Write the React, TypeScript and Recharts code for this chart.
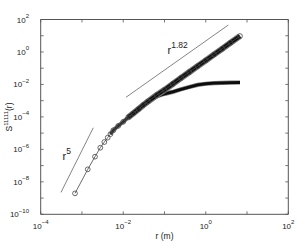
import React from 'react';
import { ComposedChart, Line, XAxis, YAxis, ReferenceLine } from 'recharts';

// Series A: circles (full structure function)
const rA = [6.78e-4, 1.38e-3, 2.07e-3, 2.78e-3, 3.48e-3, 4.2e-3, 4.9e-3, 5.75e-3, 7.59e-3, 1.0e-2, 1.32e-2, 1.75e-2, 2.34e-2, 3.06e-2, 3.98e-2, 6.46e-2, 0.1, 0.158, 0.251, 0.398, 0.631, 1.0, 1.585, 2.512, 3.98, 6.75];
const sA = [1.95e-9, 5.89e-8, 3.55e-7, 1.26e-6, 2.82e-6, 5.25e-6, 8.71e-6, 1.51e-5, 2.82e-5, 5.0e-5, 9.33e-5, 1.66e-4, 3.02e-4, 5.37e-4, 8.91e-4, 2.19e-3, 4.57e-3, 1.07e-2, 2.51e-2, 5.75e-2, 0.132, 0.302, 0.692, 1.585, 3.72, 9.55];
// Series B: saturating branch
const rB = [3.98e-2, 6.31e-2, 0.1, 0.158, 0.251, 0.398, 0.631, 1.0, 1.585, 2.512, 3.98, 6.76];
const sB = [8.91e-4, 1.82e-3, 2.63e-3, 3.47e-3, 5.01e-3, 6.92e-3, 9.33e-3, 1.10e-2, 1.20e-2, 1.26e-2, 1.29e-2, 1.32e-2];
// Reference slopes
const rSlope5 = [3.1e-4, 1.88e-3];
const sSlope5 = [2.24e-9, 2.14e-5];
const rSlope182 = [1.167e-2, 3.516];
const sSlope182 = [1.62e-3, 45.7];

const xTicks = [1e-4, 1e-3, 1e-2, 1e-1, 1e0, 1e1, 1e2];
const yTicks = [1e-10, 1e-9, 1e-8, 1e-7, 1e-6, 1e-5, 1e-4, 1e-3, 1e-2, 1e-1, 1e0, 1e1, 1e2];

const zip = (r: number[], s: number[]) => r.map((v, i) => ({ r: v, s: s[i] }));
const dataA = zip(rA, sA);
const dataBandThin = dataA.filter((d) => d.r >= 4.9e-3 && d.r <= 1.8e-2);
const dataBand = dataA.filter((d) => d.r >= 1.32e-2);
const dataB = zip(rB, sB);
const data5 = zip(rSlope5, sSlope5);
const data182 = zip(rSlope182, sSlope182);

const W = 299;
const H = 242;
const L = 40.7;
const T = 19.5;
const R = 288.3;
const B = 214.3;
const AX = '#555';
const FONT = "'Liberation Sans', Arial, Helvetica, sans-serif";

const expOf = (v: number) => Math.round(Math.log10(v));

const XTick = (props: any) => {
  const { x, payload } = props;
  const e = expOf(payload.value);
  return (
    <g>
      <line x1={x} y1={B} x2={x} y2={B - 3} stroke={AX} strokeWidth={0.8} />
      <line x1={x} y1={T} x2={x} y2={T + 3} stroke={AX} strokeWidth={0.8} />
      {e % 2 === 0 && (
        <text x={x} y={228.5} textAnchor="middle" fontSize={8} fill="#222" fontFamily={FONT}>
          10<tspan dy={-4.5} fontSize={6}>{String(e).replace('-', '\u2212')}</tspan>
        </text>
      )}
    </g>
  );
};

const YTick = (props: any) => {
  const { y, payload } = props;
  const e = expOf(payload.value);
  return (
    <g>
      <line x1={L} y1={y} x2={L + 3} y2={y} stroke={AX} strokeWidth={0.8} />
      <line x1={R} y1={y} x2={R - 3} y2={y} stroke={AX} strokeWidth={0.8} />
      {e % 2 === 0 && (
        <text x={29} y={y + 3} textAnchor="end" fontSize={8} fill="#222" fontFamily={FONT}>
          10<tspan dy={-4.5} fontSize={6}>{String(e).replace('-', '\u2212')}</tspan>
        </text>
      )}
    </g>
  );
};

const CircleDot = (props: any) => {
  const { cx, cy } = props;
  if (cx == null || cy == null) return null;
  return <circle cx={cx} cy={cy} r={2.4} fill="none" stroke="#444" strokeWidth={0.8} />;
};

export default function App() {
  return (
    <div style={{ position: 'absolute', left: 0, top: 0, width: W, height: H, background: '#fff' }}>
      <ComposedChart
        width={W}
        height={H}
        margin={{ top: T, right: W - R, bottom: 0, left: 0 }}
      >
        <XAxis
          dataKey="r"
          type="number"
          scale="log"
          domain={[1e-4, 1e2]}
          allowDataOverflow
          ticks={xTicks}
          interval={0}
          height={H - B}
          tickLine={false}
          axisLine={{ stroke: AX, strokeWidth: 1 }}
          tick={<XTick />}
        />
        <YAxis
          dataKey="s"
          type="number"
          scale="log"
          domain={[1e-10, 1e2]}
          allowDataOverflow
          ticks={yTicks}
          interval={0}
          width={L}
          tickLine={false}
          axisLine={{ stroke: AX, strokeWidth: 1 }}
          tick={<YTick />}
        />
        <ReferenceLine y={1e2} stroke={AX} strokeWidth={1} />
        <ReferenceLine x={1e2} stroke={AX} strokeWidth={1} />
        <Line data={data5} dataKey="s" stroke="#666" strokeWidth={0.8} dot={false} isAnimationActive={false} />
        <Line data={data182} dataKey="s" stroke="#666" strokeWidth={0.8} dot={false} isAnimationActive={false} />
        <Line data={dataB} dataKey="s" stroke="#777" strokeWidth={4.2} dot={false} isAnimationActive={false} />
        <Line data={dataB} dataKey="s" stroke="#0d0d0d" strokeWidth={2.8} dot={false} isAnimationActive={false} />
        <Line data={dataBandThin} dataKey="s" stroke="#777" strokeWidth={4} dot={false} isAnimationActive={false} />
        <Line data={dataBandThin} dataKey="s" stroke="#222" strokeWidth={2.2} dot={false} isAnimationActive={false} />
        <Line data={dataBand} dataKey="s" stroke="#777" strokeWidth={6.2} dot={false} isAnimationActive={false} />
        <Line data={dataBand} dataKey="s" stroke="#111" strokeWidth={4} dot={false} isAnimationActive={false} />
        <Line data={dataA} dataKey="s" stroke="#444" strokeWidth={0.8} dot={<CircleDot />} isAnimationActive={false} />
      </ComposedChart>
      <svg width={W} height={H} style={{ position: 'absolute', left: 0, top: 0, pointerEvents: 'none' }}>
        <text x={164.5} y={239} textAnchor="middle" fontSize={8.5} fill="#222" fontFamily={FONT}>r (m)</text>
        <text transform="translate(12,117) rotate(-90)" textAnchor="middle" fontSize={8.5} fill="#222" fontFamily={FONT}>
          S<tspan dy={-4} fontSize={6}>11111</tspan><tspan dy={4}>(r)</tspan>
        </text>
        <text x={167.5} y={53.5} fontSize={11} fill="#222" fontFamily={FONT}>
          r<tspan dy={-5.5} fontSize={8.5}>1.82</tspan>
        </text>
        <text x={62.5} y={159.5} fontSize={11} fill="#222" fontFamily={FONT}>
          r<tspan dy={-5.5} fontSize={8.5}>5</tspan>
        </text>
      </svg>
    </div>
  );
}
